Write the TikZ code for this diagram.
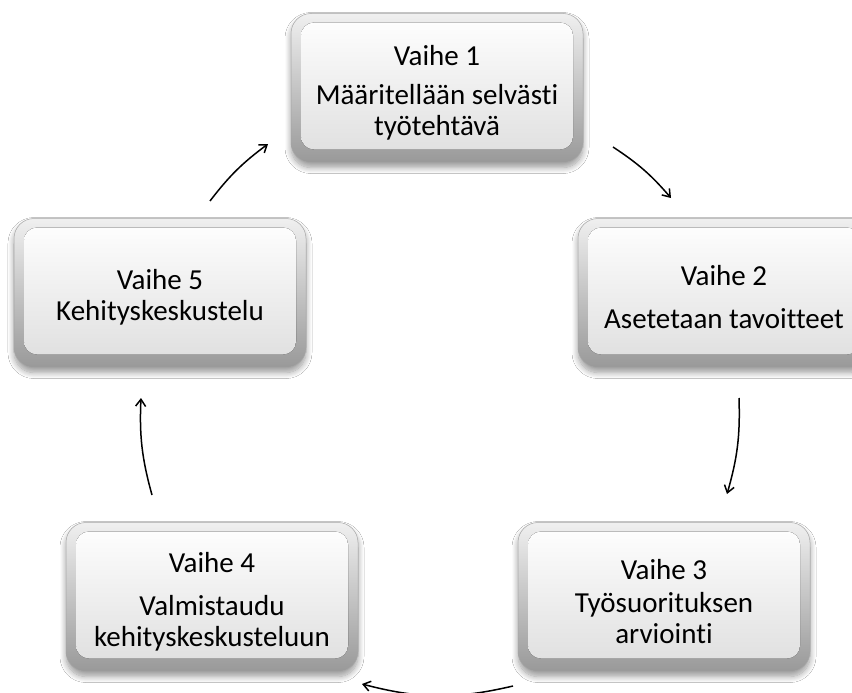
\documentclass[tikz,border=0pt]{standalone}
\usepackage{fontspec}
\setmainfont{Carlito}[Ligatures={NoCommon}]
\usetikzlibrary{shadows.blur,arrows.meta}
\newcommand{\toppad}{\rule{0pt}{29pt}}
\begin{document}
\begin{tikzpicture}[x=1pt,y=-1pt,
  stage/.style={rounded corners=20pt, minimum width=292pt, minimum height=149pt,
    inner sep=0pt, align=center, draw=black!35, line width=0.5pt,
    top color=black!6, bottom color=black!40,
    font=\fontsize{29}{31}\selectfont,
    blur shadow={shadow xshift=0pt, shadow yshift=-5pt, shadow opacity=40, shadow blur steps=10, shadow blur radius=6pt},
    path picture={\fill[rounded corners=13pt, top color=white, bottom color=black!13]
      ([shift={(10pt,-9pt)}]path picture bounding box.north west) rectangle
      ([shift={(-10pt,13pt)}]path picture bounding box.south east);}},
  flow/.style={line width=1.5pt, -{Straight Barb[length=7pt,width=10pt]}}]
\useasboundingbox (0,0) rectangle (852,693);
\fill[white] (0,0) rectangle (852,693);

\node[stage] (s1) at (437,88) {\toppad Vaihe 1\\[8pt]Määritellään selvästi\\työtehtävä};
\node[stage] (s2) at (724,293) {\toppad Vaihe 2\\[12pt]Asetetaan tavoitteet};
\node[stage] (s3) at (664,597) {\toppad Vaihe 3\\[2pt]Työsuorituksen\\arviointi};
\node[stage] (s4) at (212,597) {\toppad Vaihe 4\\[12pt]Valmistaudu\\kehityskeskusteluun};
\node[stage] (s5) at (160,293) {\toppad Vaihe 5\\Kehityskeskustelu};

\coordinate (a1s) at (210,201);
\coordinate (a1e) at (268,144);
\coordinate (a2s) at (613,147);
\coordinate (a2e) at (671,198);
\coordinate (a3s) at (739,398);
\coordinate (a3e) at (727,494);
\coordinate (a4s) at (513,686);
\coordinate (a4e) at (362,684);
\coordinate (a5s) at (152,495);
\coordinate (a5e) at (141,398);

\draw[flow] (a1s) to[bend left=8] (a1e);
\draw[flow] (a2s) to[bend left=8] (a2e);
\draw[flow] (a3s) to[bend left=9] (a3e);
\draw[flow] (a4s) to[bend left=14] (a4e);
\draw[flow] (a5s) to[bend left=9] (a5e);
\end{tikzpicture}
\end{document}
